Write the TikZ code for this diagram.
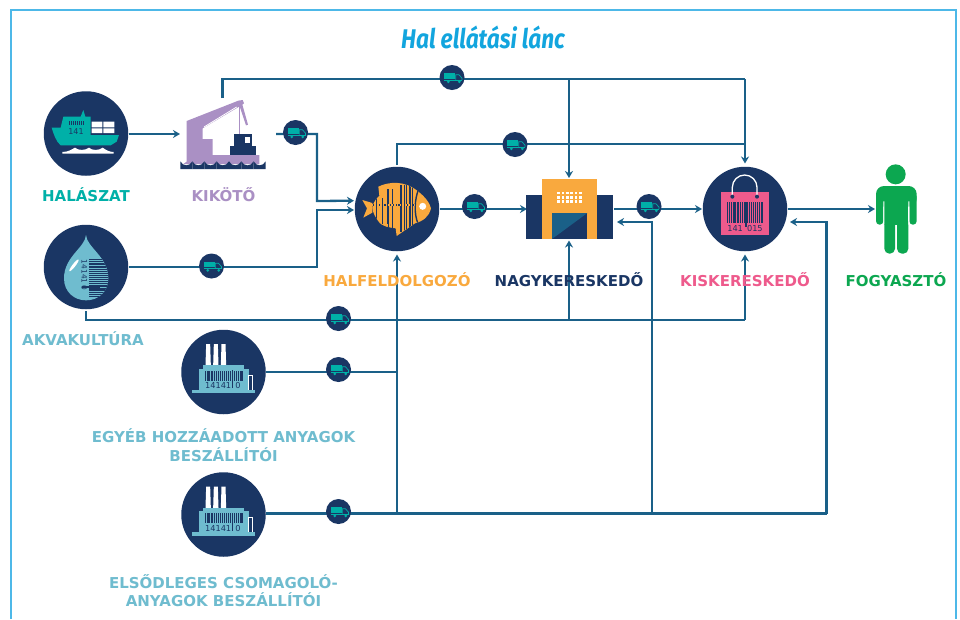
\documentclass[tikz,border=0pt]{standalone}
\usepackage{fontspec}
\setmainfont{DejaVu Sans}
\newfontfamily\titlef{Fira Sans}
\usetikzlibrary{arrows.meta}
\definecolor{navy}{HTML}{1A3664}
\definecolor{flowc}{HTML}{1A6088}
\definecolor{framec}{HTML}{4DB8E8}
\definecolor{titlec}{HTML}{12A5DE}
\definecolor{tealc}{HTML}{00B0A8}
\definecolor{purp}{HTML}{AA90C4}
\definecolor{orng}{HTML}{F9A93E}
\definecolor{pink}{HTML}{EE5A8C}
\definecolor{grn}{HTML}{0CA750}
\definecolor{ltblue}{HTML}{6FBCCF}
\pgfdeclarelayer{wires}
\pgfsetlayers{wires,main}
\tikzset{
  x=1pt,y=-1pt,
  zoomed/.style 2 args={shift={(#1,#2)},x=0.33333pt,y=-0.33333pt},
  hub/.style={circle,fill=navy,minimum size=84.5pt,inner sep=0pt},
  truckdot/.style={circle,fill=navy,minimum size=25pt,inner sep=0pt},
  flow/.style={draw=flowc,line width=2.3pt},
  arr/.style={flow,-{Stealth[length=7pt,width=8pt]}},
  lab/.style={font=\bfseries\fontsize{15}{18}\selectfont,align=center,inner sep=0pt},
  truckicon/.pic={
    \begin{scope}[x=0.33333pt,y=-0.33333pt]
      \fill[tealc] (-23,-13) rectangle (9,4);
      \draw[tealc,line width=.7pt] (11,6)--(11,-8)--(21,-8)--(30,2)--(30,7);
      \fill[tealc] (-23,6) rectangle (30,9);
      \fill[tealc] (-11,13) circle (4.5) (22,13) circle (4.5);
    \end{scope}
  },
  factoryicon/.pic={
    \begin{scope}[x=0.33333pt,y=-0.33333pt,shift={(-160,-156)}]
      \fill[white] (108,72)--(120,72)--(122,136)--(106,136)--cycle
                   (131,72)--(143,72)--(145,136)--(129,136)--cycle
                   (154,72)--(166,72)--(168,136)--(152,136)--cycle;
      \fill[ltblue] (98,135) rectangle (222,147);
      \fill[ltblue] (85,146) rectangle (235,210);
      \fill[ltblue] (65,209) rectangle (254,220);
      \draw[white,line width=.8pt] (236,209)--(236,165)--(248,165)--(248,209);
      \foreach \a/\w in {103/3,109/2,114/4,121/2,126/3,132/2,137/4,144/2,149/3,155/2,160/5,167/2,172/3,178/2,192/3,197/2,202/4,208/2,213/4}
        \fill[navy] (\a,152) rectangle ++(\w,30);
      \fill[navy] (185,150) rectangle (189,205);
      \node[text=navy,inner sep=0pt,font=\fontsize{8.2}{9}\selectfont] at (158,197) {14141\,\,\,0};
    \end{scope}
  }
}
\begin{document}
\begin{tikzpicture}
\useasboundingbox (0,0) rectangle (960,619);
\begin{pgfonlayer}{wires}
\fill[white] (0,0) rectangle (960,619);
\end{pgfonlayer}
\draw[framec,line width=2pt] (11,619)--(11,9.5)--(955.5,9.5)--(955.5,619);

% ---- hubs
\node[hub] (hal) at (86,133.5) {};
\node[hub] (akva) at (86,267) {};
\node[hub] (feld) at (397,209) {};
\node[hub] (kisk) at (745,209) {};
\node[hub] (gyar) at (223.5,372) {};
\node[hub] (csom) at (223.5,514.5) {};
\foreach \n/\px/\py in {ta/295.5/132.5,tb/211.5/266,tc/452/77.5,td/515/144.5,te/474.5/206.5,tf/649/206.5,tg/338.5/318.5,th/338.5/369.5,ti/338.5/511.5}{
  \node[truckdot] (\n) at (\px,\py) {};
  \pic at (\n) {truckicon};
}
% ---- endpoints
\coordinate (cranetop) at (222.5,98);
\coordinate (portin) at (180,134);
\coordinate (portout) at (276,134);
\coordinate (wtop) at (569,178);
\coordinate (wbot) at (569,240.5);
\coordinate (wleft) at (527,209);
\coordinate (wright) at (614,209);
\coordinate (wback) at (617,222);
\coordinate (kback) at (790,222);
\coordinate (kleft) at (702,209);
\coordinate (ktop) at (745,163.5);
\coordinate (kbot) at (745,254.5);
\coordinate (fbot) at (397,254.5);
\coordinate (fin1) at (354,200.7);
\coordinate (fin2) at (354,210);
\coordinate (person) at (875,209);
\coordinate (fout) at (440,209);
\coordinate (kout) at (788,209);
\coordinate (gout) at (266,372);
\coordinate (cout) at (266,513.5);
\coordinate (hout) at (129,134);
\coordinate (aout) at (129,267);
\coordinate (abot) at (86,311);
\coordinate (ftop) at (397,165);
\coordinate (j1) at (317,201);
\coordinate (j2) at (317,210);
\coordinate (topy) at (745,79);
\coordinate (midy) at (745,144);
\coordinate (lowy) at (86,320);
\coordinate (biglow) at (826.5,513.5);
\coordinate (x652) at (652,513.5);
\coordinate (x397) at (397,513.5);

% ---- connectors
\begin{pgfonlayer}{wires}
\draw[arr] (hout)--(portin);
\draw[flow] (cranetop)|-(topy);
\draw[arr] (topy)--(ktop);
\draw[arr] (wtop|-topy)--(wtop);
\draw[flow] (ftop)|-(midy);
\draw[arr] (portout)-|(j1)--(fin1);
\draw[arr] (aout)-|(j2)--(fin2);
\draw[arr] (fout)--(wleft);
\draw[arr] (wright)--(kleft);
\draw[arr] (kout)--(person);
\draw[flow] (abot)|-(lowy)--(lowy-|kbot);
\draw[arr] (lowy-|kbot)--(kbot);
\draw[arr] (lowy-|wbot)--(wbot);
\draw[flow] (gout)--(gout-|x397);
\draw[arr] (x397)--(fbot);
\draw[flow] (cout)--(biglow);
\draw[arr] (biglow)|-(kback);
\draw[arr] (x652)|-(wback);
\end{pgfonlayer}

% ---- ship
\begin{scope}[zoomed={20}{60}]
  \fill[tealc] (95,203)--(122,203)--(130,170)--(182,170)--(190,150)--(196,170)--(212,170)--(212,225)--(297,225)--(290,245)--(272,256)--(122,256)..controls (108,245) and (100,220) ..cycle;
  \foreach \q/\w in {148/3,153/2,158/3,165/2,170/3,178/2,183/3,188/2}
    \fill[navy] (\q,182) rectangle ++(\w,14);
  \node[text=navy,inner sep=0pt,font=\fontsize{8}{9}\selectfont] at (168,214) {141};
  \fill[white] (215,185) rectangle (247,202) (250,185) rectangle (283,202)
               (215,205) rectangle (247,219) (250,205) rectangle (283,219);
  \fill[white] (127,281)--(127,276) .. controls (145,276) and (155,268) .. (165,263)
     .. controls (175,272) and (195,272) .. (207,263)
     .. controls (215,272) and (238,272) .. (248,263)
     .. controls (258,270) and (268,276) .. (281,276)--(281,281)--cycle;
\end{scope}

% ---- crane
\begin{scope}[zoomed={20}{60}]
  \fill[purp] (500,183)--(655,122)--(668,120)--(672,130)--(664,136)--(548,205)--(548,237)--(578,237)--(578,285)--(718,285)--(718,312)--(490,312)--(500,305)--cycle;
  \draw[white,line width=.8pt] (552,201)--(650,141);
  \draw[purp,line width=1.4pt] (658,130)--(658,222);
  \fill[purp] (656,130)--(666,130)--(684,194)--(678,196)--cycle;
  \fill[navy] (643,222) rectangle (695,258);
  \fill[navy] (630,257) rectangle (708,285);
  \fill[white] (675,230) rectangle (690,248);
  \foreach \q/\r in {481/36,517/36,553/37,590/37,627/37,664/37,701/36}
    \fill[navy] (\q,304) .. controls (\q+8,320) and (\q+\r-8,320) .. (\q+\r,304)--(\q+\r,327)--(\q,327)--cycle;
\end{scope}

% ---- drop
\begin{scope}[zoomed={0}{210}]
  \path[fill=ltblue] (258,75) .. controls (256,112) and (192,140) .. (192,205)
     .. controls (192,245) and (222,271) .. (258,271)
     .. controls (296,271) and (325,245) .. (325,205)
     .. controls (325,140) and (260,112) .. cycle;
  \begin{scope}
    \clip (258,75) .. controls (256,112) and (192,140) .. (192,205)
     .. controls (192,245) and (222,271) .. (258,271)
     .. controls (296,271) and (325,245) .. (325,205)
     .. controls (325,140) and (260,112) .. cycle;
    \foreach \q/\w in {148/3,154/2,160/4,167/2,172/3,178/2,183/4,190/2,195/3,201/2,206/4,213/2,218/3,224/2,229/3,235/4,241/3,247/2,252/3,258/3}
      \fill[navy] (268,\q) rectangle (330,\q+\w);
  \end{scope}
  \fill[navy] (246,229) rectangle (300,233);
  \node[rotate=-90,text=navy,inner sep=0pt,font=\fontsize{7.4}{8}\selectfont] at (253,196) {14141\,\,0};
  \fill[white,rotate around={52:(222,166)}] (222,166) ellipse (22 and 4.5);
\end{scope}

% ---- fish
\begin{scope}[zoomed={355}{165}]
  \fill[orng] (22,105)--(52,114)--(52,143)--(25,158)--(36,130)--cycle;
  \def\fishbody{(70,65) .. controls (100,50) and (150,45) .. (190,80)
      .. controls (210,95) and (225,115) .. (228,130)
      .. controls (222,155) and (205,168) .. (180,175)
      -- (125,213)--(122,190)
      .. controls (100,188) and (85,182) .. (75,175)
      .. controls (62,160) and (52,140) .. (52,128)
      .. controls (55,110) and (65,100) .. (73,92) -- cycle}
  \fill[orng] \fishbody;
  \begin{scope}
    \clip \fishbody;
    \foreach \a/\b/\w in {64/96/3,82/98/3,97/72/6,112/72/2,136/60/5,146/60/3,152/60/4,163/60/4,172/62/3}
      \fill[navy] (\a,\b) rectangle (\a+\w,200);
    \fill[orng] (58,178) rectangle (100,205);
    \draw[navy,line width=1.4pt] (190,75) .. controls (180,100) and (175,145) .. (190,178);
  \end{scope}
  \fill[navy] (50,116) rectangle (178,124);
  \draw[orng,line width=1.2pt,dash pattern=on 1.6pt off 1.2pt] (50,120)--(178,120);
  \fill[white] (203,124) circle (10.5);
\end{scope}

% ---- warehouse
\begin{scope}[zoomed={340}{60}]
  \fill[navy] (557,405) rectangle (820,537);
  \fill[orng] (606,356) rectangle (771,537);
  \fill[navy] (636,459) rectangle (742,537);
  \fill[flowc] (636,459)--(742,459)--(636,537)--cycle;
  \foreach \q in {652,665,678,691,704,717}
    \foreach \r in {395,408,421}
      \fill[white] (\q,\r) rectangle ++(8,8);
\end{scope}

% ---- bag
\begin{scope}[zoomed={640}{60}]
  \fill[pink] (243,396) rectangle (386,526);
  \draw[white,line width=1.3pt] (277,410)--(277,382) arc[start angle=180,end angle=360,radius=37] --(351,410);
  \fill[navy] (277,410) circle (6) (351,410) circle (6);
  \foreach \q/\w in {262/2,267/3,273/2,278/2,283/4,290/2,295/3,301/2,306/4,313/2,322/3,328/2,333/4,340/2,345/3,351/2,356/3,362/2,366/3}
    \fill[navy] (\q,427) rectangle (\q+\w,488);
  \fill[navy] (316,427) rectangle (320,500);
  \node[text=navy,inner sep=0pt,font=\fontsize{8.2}{9}\selectfont] at (315,506) {141\,\,\,015};
\end{scope}

% ---- factories
\pic at (gyar) {factoryicon};
\pic at (csom) {factoryicon};

% ---- person
\begin{scope}[zoomed={640}{60}]
  \fill[grn] (767,343) circle (30);
  \fill[grn,rounded corners=8pt] (708,440)--(708,378)--(830,378)--(830,440)--cycle;
  \fill[grn,rounded corners=3.5pt] (708,400) rectangle (730,494);
  \fill[grn,rounded corners=3.5pt] (808,400) rectangle (830,494);
  \fill[grn] (733,400) rectangle (805,495);
  \fill[grn,rounded corners=5pt] (733,470) rectangle (765,581);
  \fill[grn,rounded corners=5pt] (771,470) rectangle (805,581);
  \fill[white] (730,424) rectangle (733,494) (805,424) rectangle (808,494);
\end{scope}

% ---- labels
\node[font=\titlef\bfseries\itshape\fontsize{27}{30}\selectfont,text=titlec,inner sep=0pt] (title) at (483,37) {\scalebox{0.84}[1]{Hal ellátási lánc}};
\node[lab,text=tealc] (l1) at (86,195) {HALÁSZAT};
\node[lab,text=purp] (l2) at (223.5,195) {KIKÖTŐ};
\node[lab,text=orng] (l3) at (397,280) {HALFELDOLGOZÓ};
\node[lab,text=navy] (l4) at (569,280) {NAGYKERESKEDŐ};
\node[lab,text=pink] (l5) at (745,280) {KISKERESKEDŐ};
\node[lab,text=grn] (l6) at (896,280) {FOGYASZTÓ};
\node[lab,text=ltblue] (l7) at (83,339) {AKVAKULTÚRA};
\node[lab,text=ltblue] (l8) at (223.5,436) {EGYÉB HOZZÁADOTT ANYAGOK};
\node[lab,text=ltblue] (l9) at (223.5,455) {BESZÁLLÍTÓI};
\node[lab,text=ltblue] (l10) at (223.5,582) {ELSŐDLEGES CSOMAGOLÓ-};
\node[lab,text=ltblue] (l11) at (223.5,600) {ANYAGOK BESZÁLLÍTÓI};
\end{tikzpicture}
\end{document}
